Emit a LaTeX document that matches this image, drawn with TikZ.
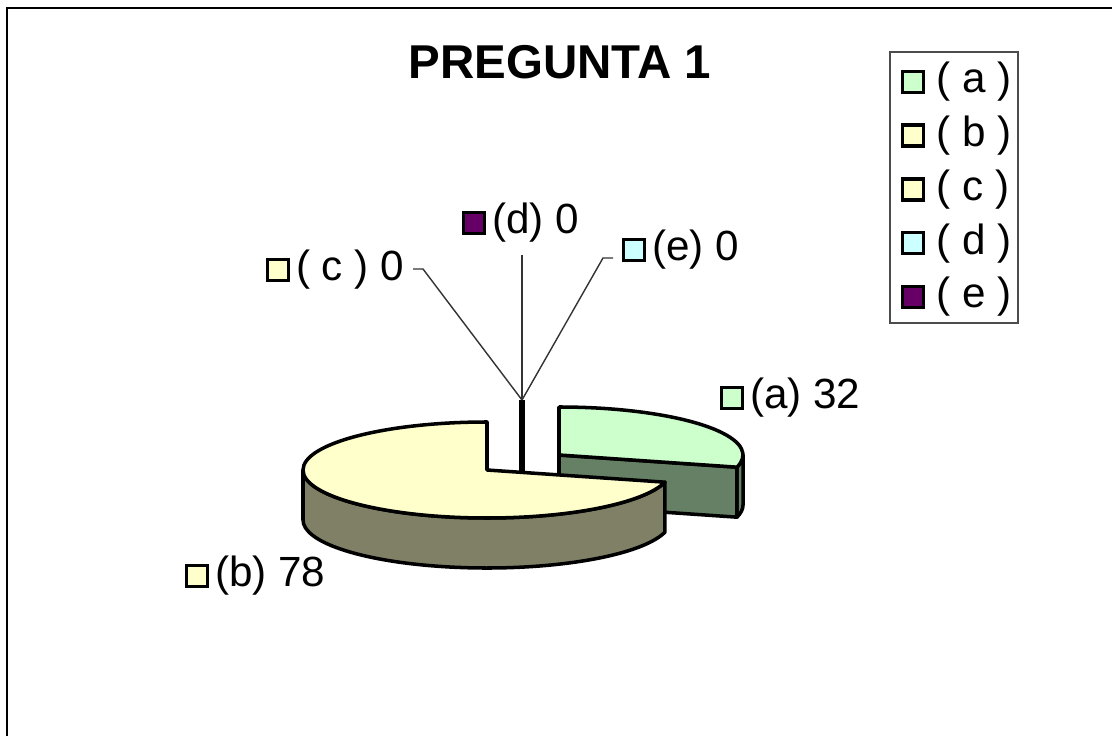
\documentclass[tikz,border=0pt]{standalone}
\usepackage{fontspec}
\setmainfont{Liberation Sans}
\usetikzlibrary{positioning,calc}
\definecolor{agreen}{HTML}{CCFFCC}
\definecolor{agreendk}{HTML}{668066}
\definecolor{byellow}{HTML}{FFFFCC}
\definecolor{byellowdk}{HTML}{808066}
\definecolor{dcyan}{HTML}{CCFFFF}
\definecolor{epurple}{HTML}{660066}
\tikzset{>=stealth}
\tikzset{key/.style={draw=black,line width=1pt,minimum size=0.21cm,inner sep=0pt},
  lbl/.style={font=\fontsize{12}{14}\selectfont,inner sep=1pt},
  leader/.style={draw=black!80,line width=0.4pt},
  slice/.style={draw=black,line width=1pt,line join=round}}

\begin{document}
\begin{tikzpicture}[x=0.01cm,y=0.01cm]
    \useasboundingbox (0,0) rectangle (1112,736);
    \draw[line width=0.8pt] (7,0) -- (7,728) -- (1112,728);
    \node[font=\bfseries\fontsize{13.5}{16}\selectfont] (title) at (560,674) {PREGUNTA 1};
    % pie: centres of the two slices
    \coordinate (A) at (559,281);
    \coordinate (B) at (487,266);
    \path[slice,fill=agreendk] ($(A)+(0:184 and 48)$) arc[start angle=0,end angle=-14.7,x radius=184,y radius=48]
        -- ++(0,-50) arc[start angle=-14.7,end angle=0,x radius=184,y radius=48] -- cycle;
    \path[slice,fill=agreendk] (A) -- ($(A)+(-14.7:184 and 48)$) -- ++(0,-50) -- ($(A)+(0,-50)$) -- cycle;
    \path[slice,fill=agreen] (A) -- ++(0,48) arc[start angle=90,end angle=-14.7,x radius=184,y radius=48] -- cycle;
    \path[slice,fill=byellowdk] ($(B)+(180:184 and 48)$) arc[start angle=180,end angle=345.3,x radius=184,y radius=48]
        -- ++(0,-50) arc[start angle=345.3,end angle=180,x radius=184,y radius=48] -- cycle;
    \path[slice,fill=byellow] (B) -- ++(0,48) arc[start angle=90,end angle=345.3,x radius=184,y radius=48] -- cycle;
    % zero slices and leaders
    \coordinate (hub) at (522,336);
    \coordinate (hubbot) at (522,264);
    \draw[line width=1.5pt] (hub) -- (hubbot);
    \node[key,fill=agreen] (ka) at (732,338) {};
    \node[lbl,right=0.5pt of ka] (la) {(a) 32};
    \node[key,fill=byellow] (kb) at (197,160) {};
    \node[lbl,right=0.5pt of kb] (lb) {(b) 78};
    \node[key,fill=byellow] (kc) at (278,466) {};
    \node[lbl,right=0.5pt of kc] (lc) {( c ) 0};
    \node[key,fill=epurple] (kd) at (474,513) {};
    \node[lbl,right=0.5pt of kd] (ld) {(d) 0};
    \node[key,fill=dcyan] (ke) at (634,486) {};
    \node[lbl,right=0.5pt of ke] (le) {(e) 0};
    \coordinate (cend) at (413,467);
    \coordinate (dend) at (522,481);
    \coordinate (eend) at (613,478);
    \draw[leader] (cend) -- ++(10,0) -- (hub);
    \draw[leader] (dend) -- (hub);
    \draw[leader] (eend) -- ++(-10,0) -- (hub);
    % legend
    \draw[draw=black!70,line width=0.6pt] (890,413) rectangle (1018,684);
    \foreach \i/\c/\t in {0/agreen/a,1/byellow/b,2/byellow/c,3/dcyan/d,4/epurple/e} {
        \node[key,fill=\c] (lk\i) at (913,654-53.7*\i) {};
        \node[lbl,right=2pt of lk\i] (lt\i) {(\ \t\ )};
    }
\end{tikzpicture}
\end{document}
